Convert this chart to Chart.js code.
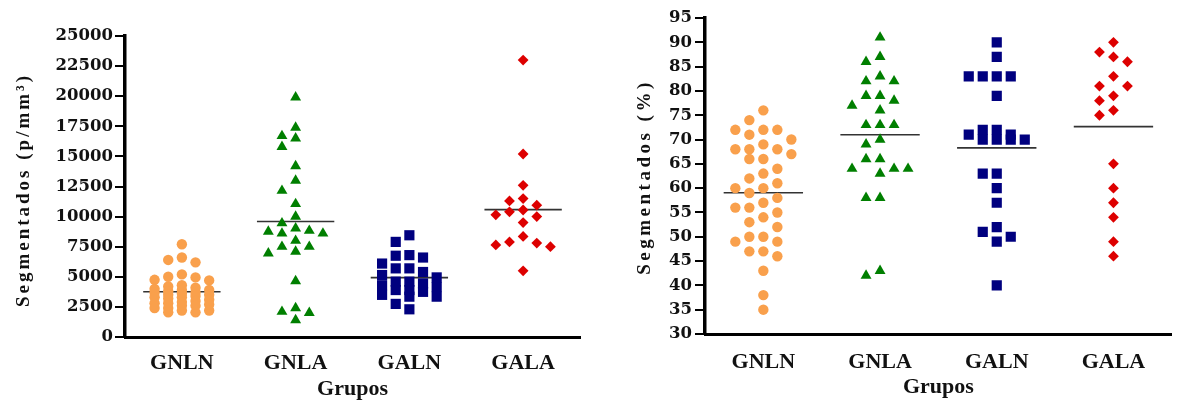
<!DOCTYPE html>
<html><head><meta charset="utf-8">
<script src="https://cdn.jsdelivr.net/npm/chart.js@4/dist/chart.umd.min.js"></script>
<style>
html,body{margin:0;padding:0;background:#fff;}
#wrap{position:relative;width:1179px;height:403px;overflow:hidden;background:#fff;}
#c1{position:absolute;left:0;top:0;}
#c2{position:absolute;left:590px;top:0;}
</style></head><body>
<div id="wrap"><canvas id="c1" width="590" height="403"></canvas><canvas id="c2" width="589" height="403"></canvas></div>
<script>
// ---- data ----
const grupos = ['GNLN', 'GNLA', 'GALN', 'GALA'];

// Left: Segmentados (p/mm3)
const absGNLN = [7700, 6600, 6400, 6200, 5200, 5000, 4950, 4750, 4700, 4300, 4200, 4100, 4000, 3900, 3900, 3800, 3700, 3700, 3600, 3500, 3500, 3400, 3300, 3300, 3200, 3100, 3000, 2900, 2800, 2800, 2700, 2600, 2600, 2400, 2400, 2200, 2200, 2050, 2050];
const absGNLA = [19900, 17400, 16500, 16700, 15800, 14200, 13000, 12150, 11050, 10000, 9450, 8830, 8600, 8600, 8750, 9030, 8000, 7500, 6950, 7100, 7500, 4650, 2000, 1400, 2100, 2400];
const absGALN = [8450, 7900, 6800, 6750, 6600, 6100, 5700, 5700, 5400, 5150, 4950, 4600, 4600, 4450, 4300, 4150, 3900, 3900, 3750, 3500, 3350, 3350, 2750, 2300];
const absGALA = [23000, 15200, 12600, 11300, 11500, 10950, 10550, 10400, 10150, 10000, 9500, 8350, 7900, 7650, 7500, 7800, 5500];
const absTicks = [0, 2500, 5000, 7500, 10000, 12500, 15000, 17500, 20000, 22500, 25000];

// Right: Segmentados (%)
const pctGNLN = [76, 74, 72, 72, 72, 71, 70, 69, 68, 68, 68, 67, 66, 66, 64, 63, 62, 61, 60, 60, 59, 58, 57, 56, 56, 55, 54, 53, 52, 50, 50, 49, 49, 47, 47, 46, 43, 38, 35];
const pctGNLA = [91, 87, 86, 83, 82, 82, 79, 79, 78, 77, 76, 73, 73, 73, 70, 69, 66, 66, 64, 64, 64, 63, 58, 58, 43, 42];
const pctGALN = [90, 87, 83, 83, 83, 83, 79, 72, 72, 71, 71, 70, 70, 70, 70, 63, 63, 60, 57, 52, 51, 50, 49, 40];
const pctGALA = [90, 88, 87, 86, 83, 81, 81, 79, 78, 76, 75, 65, 60, 57, 54, 49, 46];
const pctTicks = [30, 35, 40, 45, 50, 55, 60, 65, 70, 75, 80, 85, 90, 95];

// ---- styles ----
const markers = [
  {style: 'circle', color: '#F9A04C', r: 5.2},
  {style: 'triangle', color: '#007F00', r: 6.3},
  {style: 'rect', color: '#00007F', r: 7.2},
  {style: 'rectRot', color: '#DD0000', r: 5.4}
];
const SERIF = '"Liberation Serif", "Times New Roman", serif';
const TICKFONT = '"DejaVu Serif", serif';

const mean = a => a.reduce((s, v) => s + v, 0) / a.length;

function yTitlePlugin(text, cx, cy, spacing) {
  return {
    id: 'ytitle',
    afterDraw(chart) {
      const ctx = chart.ctx;
      ctx.save();
      ctx.translate(cx, cy);
      ctx.rotate(-Math.PI / 2);
      ctx.font = 'bold 19px ' + SERIF;
      ctx.letterSpacing = spacing + 'px';
      ctx.fillStyle = '#111';
      ctx.textAlign = 'center';
      ctx.textBaseline = 'middle';
      ctx.fillText(text, 0, 0);
      ctx.restore();
    }
  };
}

function makeChart(canvas, groups, ticks, cfg) {
  const datasets = groups.map((vals, i) => ({
    type: 'scatter',
    data: vals.map(v => ({x: i, y: v})),
    pointStyle: markers[i].style,
    pointRadius: markers[i].r,
    pointHoverRadius: markers[i].r,
    backgroundColor: markers[i].color,
    borderColor: markers[i].color,
    borderWidth: 0,
    order: 1
  }));
  groups.forEach((vals, i) => {
    const m = mean(vals);
    datasets.push({
      type: 'line',
      data: [{x: i - 0.34, y: m}, {x: i + 0.34, y: m}],
      borderColor: '#333',
      borderWidth: 1.6,
      pointRadius: 0,
      fill: false,
      order: 5
    });
  });
  const chart = new Chart(canvas, {
    type: 'scatter',
    data: {datasets},
    options: {
      responsive: false,
      animation: false,
      devicePixelRatio: 1,
      layout: {padding: cfg.padding},
      plugins: {legend: {display: false}, tooltip: {enabled: false}},
      scales: {
        x: {
          type: 'linear', min: -0.5, max: 3.5,
          afterBuildTicks: s => { s.ticks = grupos.map((g, i) => ({value: i})); },
          ticks: {
            callback: (v, idx) => grupos[idx],
            font: {family: SERIF, weight: 'bold', size: 22},
            color: '#111', padding: cfg.xPad, maxRotation: 0, autoSkip: false
          },
          grid: {display: false},
          border: {display: true, color: '#000', width: 3},
          title: {display: true, text: 'Grupos', color: '#111',
            font: {family: SERIF, weight: 'bold', size: 22}, padding: {top: 0, bottom: cfg.titlePad}},
          afterFit: s => { s.height = cfg.xHeight; }
        },
        y: {
          type: 'linear', min: ticks[0], max: ticks[ticks.length - 1],
          afterBuildTicks: s => { s.ticks = ticks.map(v => ({value: v})); },
          ticks: {
            font: {family: TICKFONT, weight: 'bold', size: 16.5},
            color: '#111', padding: cfg.yPad, autoSkip: false,
            callback: v => String(v)
          },
          grid: {display: true, drawOnChartArea: false, drawTicks: true, tickLength: 10, color: '#000', lineWidth: 2},
          border: {display: true, color: '#000', width: 3.5},
          afterFit: s => { s.width = cfg.yWidth; }
        }
      }
    },
    plugins: [yTitlePlugin(cfg.yTitle, cfg.tx, cfg.ty, cfg.ls)]
  });

  // column-scatter layout: spread points horizontally where they would overlap
  const xs = chart.scales.x, ys = chart.scales.y;
  const catW = xs.getPixelForValue(1) - xs.getPixelForValue(0);
  const colW = catW * 0.12;
  const thr = 10.5;
  groups.forEach((vals, gi) => {
    const placed = [];
    const cols = new Array(vals.length);
    const order = vals.map((v, i) => i).sort((a, b) => vals[b] - vals[a]);
    order.forEach(i => {
      const py = ys.getPixelForValue(vals[i]);
      let best = 0, bestD = -1;
      for (const c of [0, -1, 1, -2, 2]) {
        let minD = Infinity;
        placed.forEach(p => { if (p.col === c) minD = Math.min(minD, Math.abs(p.py - py)); });
        if (minD >= thr) { best = c; bestD = minD; break; }
        if (minD > bestD) { bestD = minD; best = c; }
      }
      placed.push({col: best, py});
      cols[i] = best;
    });
    chart.data.datasets[gi].data = vals.map((v, i) => ({x: gi + cols[i] * colW / catW, y: v}));
  });
  chart.update('none');
  return chart;
}

makeChart(document.getElementById('c1'), [absGNLN, absGNLA, absGALN, absGALA], absTicks, {
  padding: {top: 36, right: 10, left: 0, bottom: 0},
  yWidth: 125, xHeight: 66, xPad: 5, yPad: 2, titlePad: 0,
  yTitle: 'Segmentados (p/mm³)', tx: 24, ty: 190, ls: 3
});

makeChart(document.getElementById('c2'), [pctGNLN, pctGNLA, pctGALN, pctGALA], pctTicks, {
  padding: {top: 18, right: 2, left: 0, bottom: 0},
  yWidth: 115, xHeight: 69, xPad: 7, yPad: 3, titlePad: 2,
  yTitle: 'Segmentados (%)', tx: 55, ty: 177, ls: 3.5
});
</script>
</body></html>
